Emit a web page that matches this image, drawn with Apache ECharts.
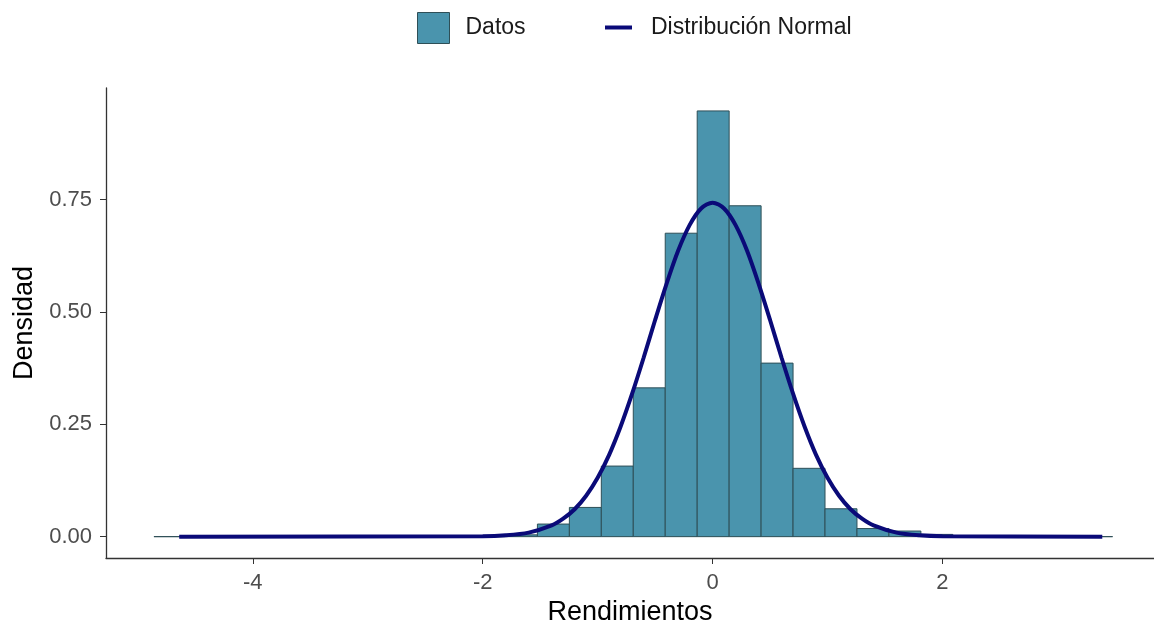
<!DOCTYPE html>
<html>
<head>
<meta charset="utf-8">
<title>Rendimientos</title>
<script src="https://cdn.jsdelivr.net/npm/echarts@6/dist/echarts.min.js"></script>
<style>
html, body { margin: 0; padding: 0; background: #fff; }
#chart { width: 1154px; height: 632px; }
</style>
</head>
<body>
<div id="chart"></div>
<script>
// bordes de los 30 intervalos del histograma
var binEdges = [-4.860, -4.582, -4.304, -4.026, -3.748, -3.470, -3.192, -2.914, -2.636, -2.358,
    -2.080, -1.802, -1.524, -1.246, -0.968, -0.690, -0.412, -0.134, 0.144, 0.422,
    0.700, 0.978, 1.256, 1.534, 1.812, 2.090, 2.368, 2.646, 2.924, 3.202, 3.480];
// densidad de cada intervalo
var binDensity = [0, 0, 0, 0, 0, 0, 0, 0, 0, 0,
    0, 0.004, 0.028, 0.065, 0.157, 0.331, 0.675, 0.947, 0.736, 0.386,
    0.152, 0.062, 0.018, 0.0125, 0.005, 0, 0, 0, 0, 0];
// curva normal
var normalX = [-4.64, -2.0, -1.8, -1.6, -1.4, -1.3, -1.2, -1.1, -1.0, -0.9, -0.8, -0.7, -0.6, -0.5,
    -0.4, -0.3, -0.2, -0.1, 0.0, 0.1, 0.2, 0.3, 0.4, 0.5, 0.6, 0.7, 0.8, 0.9, 1.0,
    1.1, 1.2, 1.3, 1.4, 1.6, 1.8, 2.0, 3.39];
var normalY = [0, 0.001, 0.003, 0.009, 0.025, 0.040, 0.061, 0.091, 0.131, 0.182, 0.245, 0.318, 0.398, 0.482,
    0.563, 0.636, 0.693, 0.730, 0.743, 0.730, 0.693, 0.636, 0.563, 0.482, 0.398, 0.318, 0.245, 0.182, 0.131,
    0.091, 0.061, 0.040, 0.025, 0.009, 0.003, 0.001, 0];
var xTicks = [-4, -2, 0, 2];
var yTicks = [0, 0.25, 0.5, 0.75];

var fillColor = '#4A94AD';
var borderColor = '#2E4F57';
var curveColor = '#0a0a78';
var font = 'Liberation Sans';

var bins = [];
for (var i = 0; i < binDensity.length; i++) {
    bins.push([binEdges[i], binEdges[i + 1], binDensity[i]]);
}
var curve = [];
for (var j = 0; j < normalX.length; j++) {
    curve.push([normalX[j], normalY[j]]);
}

function renderBin(params, api) {
    var topLeft = api.coord([api.value(0), api.value(2)]);
    var bottomRight = api.coord([api.value(1), 0]);
    return {
        type: 'rect',
        shape: {
            x: topLeft[0],
            y: topLeft[1],
            width: bottomRight[0] - topLeft[0],
            height: bottomRight[1] - topLeft[1]
        },
        style: {
            fill: fillColor,
            stroke: borderColor,
            lineWidth: 1
        }
    };
}

var chart = echarts.init(document.getElementById('chart'));
var option = {
    animation: false,
    textStyle: { fontFamily: font },
    legend: [{
        data: ['Datos'],
        left: 417,
        top: 12,
        padding: 0,
        icon: 'rect',
        itemWidth: 32,
        itemHeight: 31,
        itemStyle: { borderColor: borderColor, borderWidth: 1 },
        textStyle: { fontSize: 23, color: '#1a1a1a', fontFamily: font, padding: [0, 0, 0, 11] }
    }, {
        data: ['Distribución Normal'],
        left: 605,
        top: 16,
        padding: 0,
        icon: 'rect',
        itemWidth: 27,
        itemHeight: 4,
        textStyle: { fontSize: 23, color: '#1a1a1a', fontFamily: font, padding: [0, 0, 0, 14] }
    }],
    grid: {
        left: 106,
        right: 0,
        top: 88,
        bottom: 74
    },
    xAxis: {
        type: 'value',
        min: -5.277,
        max: 3.84,
        name: 'Rendimientos',
        nameLocation: 'middle',
        nameGap: 38,
        nameTextStyle: { fontSize: 27, color: '#000', fontFamily: font },
        splitLine: { show: false },
        axisLine: { show: true, onZero: false, lineStyle: { color: '#333', width: 1.3 } },
        axisTick: { show: true, length: 6, customValues: xTicks, lineStyle: { color: '#333' } },
        axisLabel: { customValues: xTicks, fontSize: 22, color: '#4d4d4d', margin: 14 }
    },
    yAxis: {
        type: 'value',
        min: -0.0475,
        max: 0.998,
        name: 'Densidad',
        nameLocation: 'middle',
        nameGap: 60,
        nameTextStyle: { fontSize: 27, color: '#000', fontFamily: font },
        splitLine: { show: false },
        axisLine: { show: true, onZero: false, lineStyle: { color: '#333', width: 1.3 } },
        axisTick: { show: true, length: 6, customValues: yTicks, lineStyle: { color: '#333' } },
        axisLabel: {
            customValues: yTicks,
            fontSize: 22,
            color: '#4d4d4d',
            margin: 14,
            formatter: function (v) { return v.toFixed(2); }
        }
    },
    series: [{
        name: 'Datos',
        type: 'custom',
        renderItem: renderBin,
        itemStyle: { color: fillColor },
        encode: { x: [0, 1], y: 2 },
        data: bins,
        z: 2
    }, {
        name: 'Distribución Normal',
        type: 'line',
        smooth: 0.3,
        symbol: 'none',
        itemStyle: { color: curveColor },
        lineStyle: { color: curveColor, width: 4 },
        data: curve,
        z: 3
    }]
};
chart.setOption(option);
</script>
</body>
</html>
